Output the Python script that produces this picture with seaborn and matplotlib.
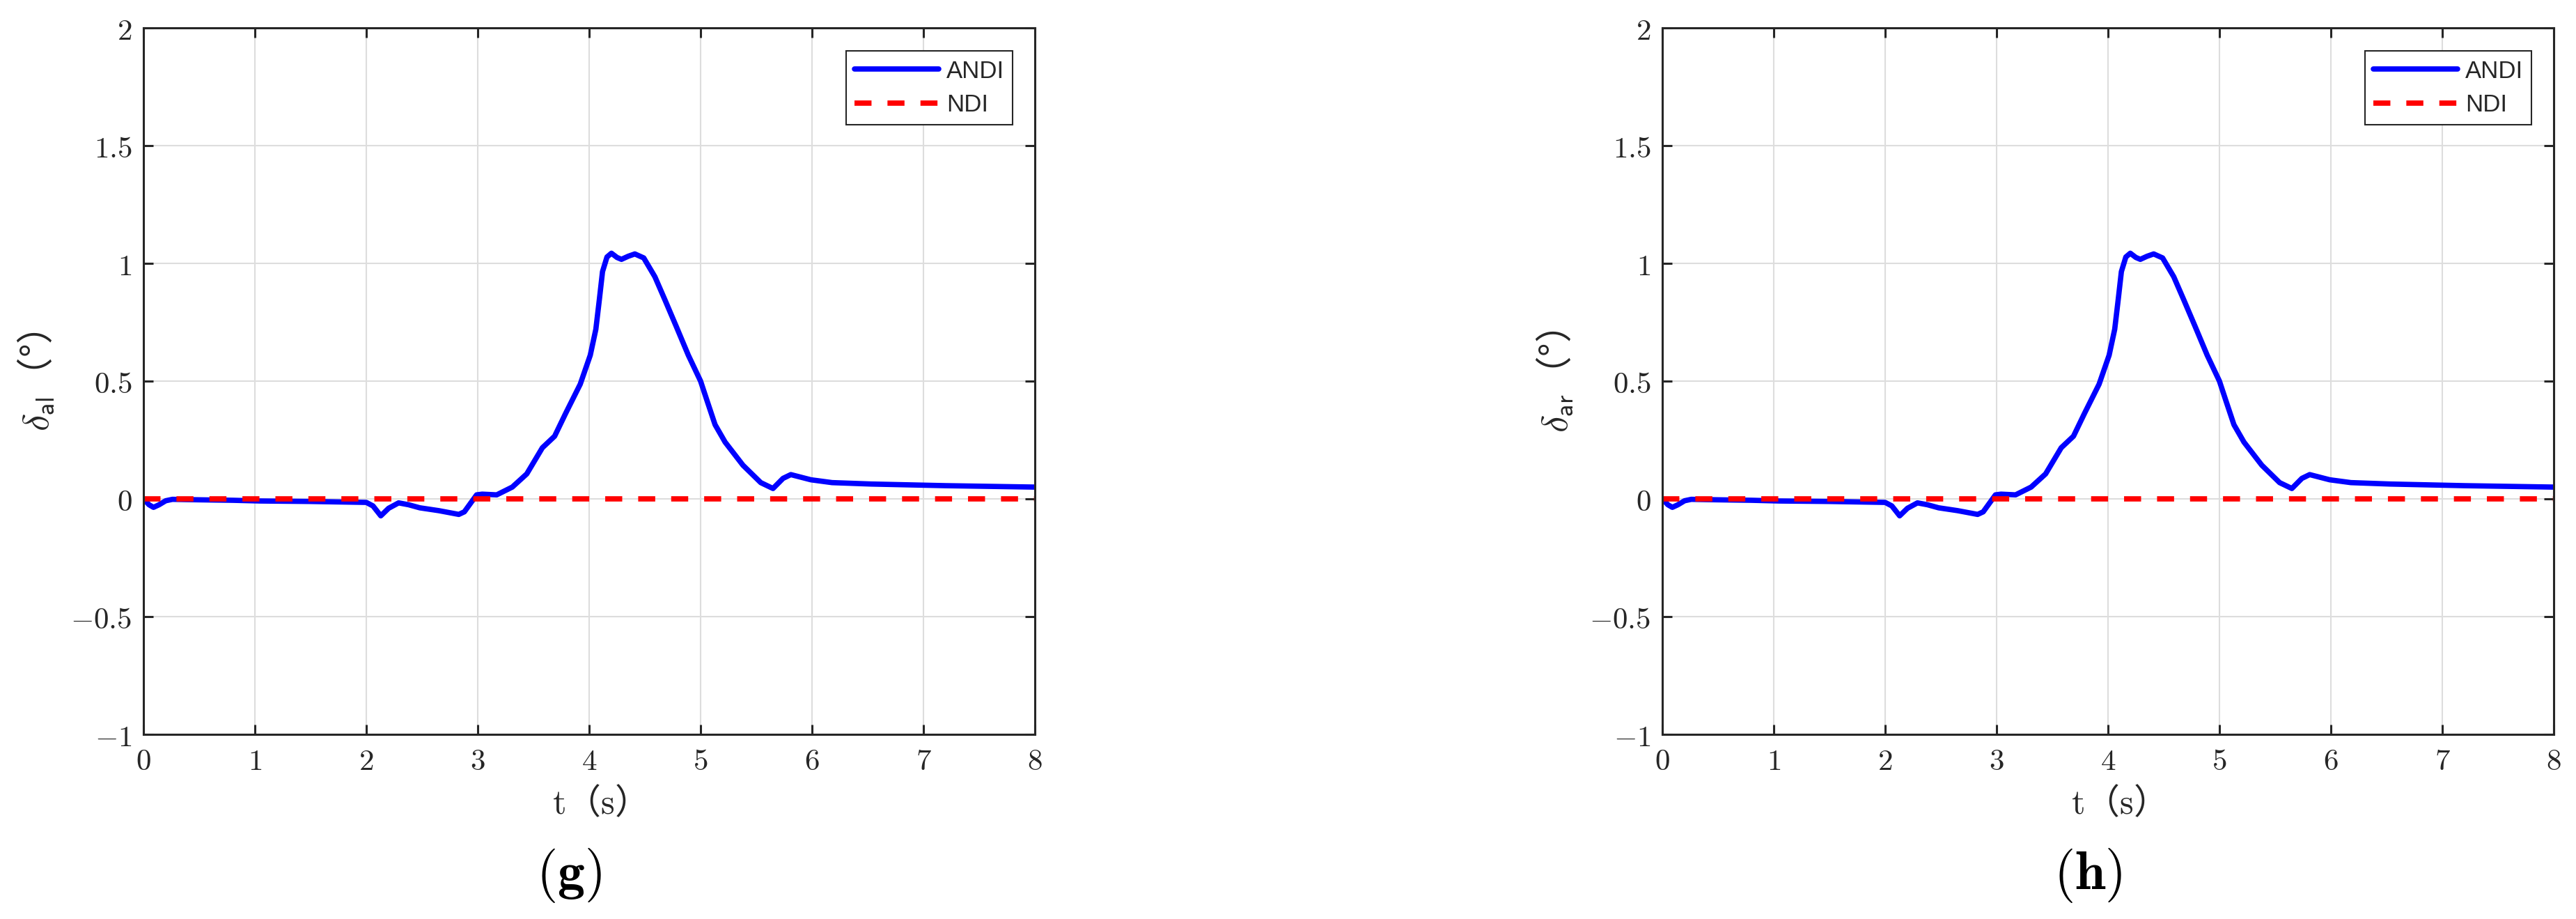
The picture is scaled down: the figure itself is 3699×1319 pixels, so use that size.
import numpy as np
import pandas as pd
import seaborn as sns
import matplotlib
matplotlib.use('Agg')
import matplotlib.pyplot as plt

# ANDI response (same curve in both panels)
t_andi = [0.0, 0.05, 0.09, 0.14, 0.2, 0.26, 0.5, 0.8, 1.05, 1.5, 2.0, 2.06,
          2.13, 2.2, 2.29, 2.38, 2.48, 2.65, 2.83, 2.88, 2.99, 3.04, 3.17,
          3.31, 3.44, 3.58, 3.69, 3.79, 3.92, 4.01, 4.06, 4.09, 4.12, 4.16,
          4.2, 4.25, 4.29, 4.35, 4.41, 4.49, 4.59, 4.68, 4.78, 4.89, 5.0,
          5.06, 5.13, 5.22, 5.38, 5.54, 5.65, 5.74, 5.81, 5.99, 6.18, 6.53,
          7.2, 8.0]
v_andi = [0.0, -0.025, -0.036, -0.025, -0.008, -0.002, -0.004, -0.006,
          -0.009, -0.011, -0.015, -0.03, -0.072, -0.04, -0.017, -0.025,
          -0.038, -0.05, -0.066, -0.055, 0.017, 0.02, 0.017, 0.05, 0.106,
          0.217, 0.266, 0.364, 0.487, 0.61, 0.72, 0.84, 0.965, 1.027, 1.043,
          1.025, 1.017, 1.03, 1.04, 1.023, 0.943, 0.845, 0.734, 0.61, 0.5,
          0.414, 0.315, 0.241, 0.143, 0.069, 0.044, 0.087, 0.103, 0.081,
          0.069, 0.063, 0.056, 0.05]

# NDI response
t_ndi = [0.0, 8.0]
v_ndi = [0.0, 0.0]

x_ticks = [0, 1, 2, 3, 4, 5, 6, 7, 8]
y_ticks = [-1, -0.5, 0, 0.5, 1, 1.5, 2]
y_ticklabels = [r'$-1$', r'$-0.5$', r'$0$', r'$0.5$', r'$1$', r'$1.5$', r'$2$']
ylabels = [r'$\delta_{\mathsf{al}}$（°）', r'$\delta_{\mathsf{ar}}$（°）']
panel_tags = [r'$\mathbf{(g)}$', r'$\mathbf{(h)}$']

sns.set_style("ticks")
plt.rcParams['font.family'] = ['Noto Sans CJK SC', 'DejaVu Sans']
plt.rcParams['mathtext.fontset'] = 'cm'

df_andi = pd.DataFrame({'t': t_andi, 'v': v_andi})
df_ndi = pd.DataFrame({'t': t_ndi, 'v': v_ndi})

fig = plt.figure(figsize=(36.99, 13.19), dpi=100)
dark = '#262626'

lefts = [206 / 3699, 2387 / 3699]
for i, left in enumerate(lefts):
    ax = fig.add_axes([left, 0.2009, 1280 / 3699, 0.7688])
    sns.lineplot(data=df_andi, x='t', y='v', ax=ax, color='#0000ff',
                 lw=5.5, label='ANDI', sort=False)
    sns.lineplot(data=df_ndi, x='t', y='v', ax=ax, color='#ff0000',
                 lw=5.5, label='NDI', sort=False, dashes=False)
    ax.lines[1].set_dashes((3.2, 3.0))

    ax.set_xlim(0, 8)
    ax.set_ylim(-1, 2)
    ax.set_xticks(x_ticks)
    ax.set_xticklabels([rf'${v}$' for v in x_ticks])
    ax.set_yticks(y_ticks)
    ax.set_yticklabels(y_ticklabels)
    ax.grid(True, color='#dddddd', lw=1.5)
    ax.set_axisbelow(True)
    for s in ax.spines.values():
        s.set_color(dark)
        s.set_linewidth(2.2)
    ax.tick_params(direction='in', length=10, width=2.2, color=dark,
                   labelsize=31, labelcolor=dark, top=True, right=True, pad=12)

    ax.set_xlabel(r'$\mathrm{t}$（$\mathrm{s}$）', fontsize=36, color=dark,
                  labelpad=10)
    ax.set_ylabel(ylabels[i], fontsize=38, color=dark, labelpad=14)

    leg = ax.legend(loc='upper right', bbox_to_anchor=(0.975, 0.967),
                    borderaxespad=0, fancybox=False, framealpha=1,
                    edgecolor=dark, handlelength=3.5, handletextpad=0.3,
                    labelspacing=0.45, borderpad=0.35,
                    prop={'family': 'Liberation Sans', 'size': 25})
    leg.get_frame().set_linewidth(1.5)
    for line in leg.get_lines():
        line.set_linewidth(5.5)
    leg.get_lines()[1].set_dashes((3.2, 3.0))

    fig.text(left + 611 / 3699, 1 - 1256 / 1319, panel_tags[i], fontsize=56,
             ha='center', va='center', color='black')

fig.savefig('out.png', dpi=100, facecolor='white')
